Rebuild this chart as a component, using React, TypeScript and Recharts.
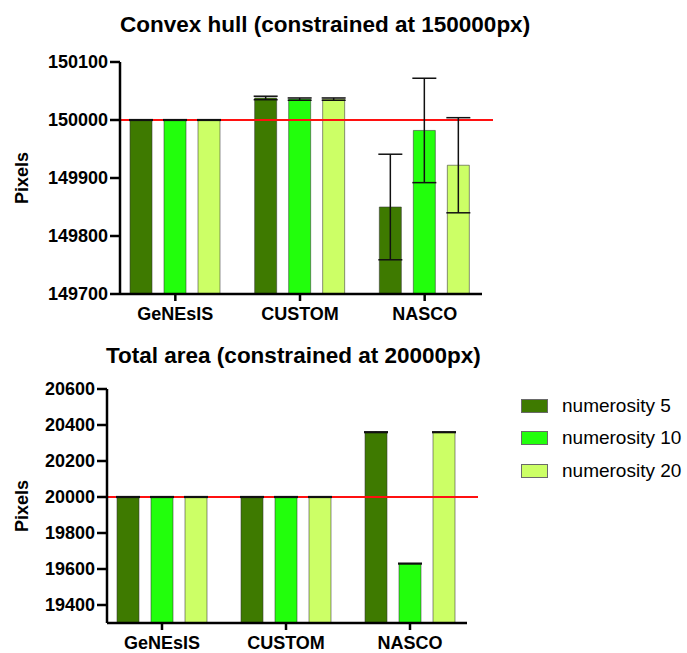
import { BarChart, Bar, XAxis, YAxis, ReferenceLine, ErrorBar, Legend } from 'recharts'

const FONT = '"Liberation Sans", Arial, Helvetica, sans-serif'

const groups = ['GeNEsIS', 'CUSTOM', 'NASCO']
const seriesNames = ['numerosity 5', 'numerosity 10', 'numerosity 20']
const COLORS = ['#3e7a00', '#22ff0c', '#ccff66']

// convex hull, mean and error per group
const hullN5 = [150000, 150038, 149850]
const hullN10 = [150000, 150036, 149982]
const hullN20 = [150000, 150036, 149922]
const hullErrN5 = [0.6, 3, 91]
const hullErrN10 = [0.6, 2, 90]
const hullErrN20 = [0.6, 2, 82]
const hullTicks = [149700, 149800, 149900, 150000, 150100]

// total area, mean and error per group
const areaN5 = [20000, 20000, 20360]
const areaN10 = [20000, 20000, 19630]
const areaN20 = [20000, 20000, 20360]
const areaErrN5 = [2, 2, 2]
const areaErrN10 = [2, 2, 2]
const areaErrN20 = [2, 2, 2]
const areaTicks = [19400, 19600, 19800, 20000, 20200, 20400, 20600]

const hullData = groups.map((g, i) => ({
  group: g,
  n5: hullN5[i], n10: hullN10[i], n20: hullN20[i],
  e5: hullErrN5[i], e10: hullErrN10[i], e20: hullErrN20[i],
}))

const areaData = groups.map((g, i) => ({
  group: g,
  n5: areaN5[i], n10: areaN10[i], n20: areaN20[i],
  e5: areaErrN5[i], e10: areaErrN10[i], e20: areaErrN20[i],
}))

const tickStyle = { fontSize: 18, fontWeight: 'bold', fill: '#000', fontFamily: FONT }
const axisStroke = { stroke: '#000', strokeWidth: 2.5 }

function redLine(p: any) {
  const left = Math.min(p.x1, p.x2)
  const right = Math.max(p.x1, p.x2)
  return <line x1={left} x2={right + 11} y1={p.y1} y2={p.y2} stroke="#ff1010" strokeWidth={2} />
}

function pixelsLabel(p: any) {
  const vb = p.viewBox
  const cy = vb.y + vb.height / 2
  return (
    <text x={22} y={cy} transform={`rotate(-90, 22, ${cy})`} textAnchor="middle" dominantBaseline="central"
      style={{ fontSize: 18, fontWeight: 'bold', fontFamily: FONT }} fill="#000">
      Pixels
    </text>
  )
}

function LegendBox({ payload }: any) {
  const items = [...(payload ?? [])].sort((a: any, b: any) => seriesNames.indexOf(a.value) - seriesNames.indexOf(b.value))
  return (
    <div>
      {items.map((item: any) => (
        <div key={item.value} style={{ display: 'flex', alignItems: 'center', height: 32.3 }}>
          <div style={{ width: 25, height: 12, background: item.color, border: '1px solid #6a6a6a' }} />
          <span style={{ marginLeft: 14, fontSize: 19, fontFamily: FONT, color: '#000', whiteSpace: 'nowrap' }}>{item.value}</span>
        </div>
      ))}
    </div>
  )
}

function bars() {
  const keys = ['n5', 'n10', 'n20']
  const errs = ['e5', 'e10', 'e20']
  return keys.map((k, i) => (
    <Bar key={k} dataKey={k} name={seriesNames[i]} fill={COLORS[i]} stroke="#333" strokeOpacity={0.55} strokeWidth={1}
      barSize={22} isAnimationActive={false}>
      <ErrorBar dataKey={errs[i]} width={12} stroke="#111" strokeWidth={1.5} direction="y" isAnimationActive={false} />
    </Bar>
  ))
}

export default function App() {
  return (
    <div style={{ position: 'absolute', left: 0, top: 0, width: 687, height: 653, background: '#fff', fontFamily: FONT }}>
      <div style={{ position: 'absolute', left: 120, width: 362, top: 12, textAlign: 'center', fontSize: 22.5, fontWeight: 'bold', whiteSpace: 'nowrap' }}>
        Convex hull (constrained at 150000px)
      </div>
      <div style={{ position: 'absolute', left: 0, top: 0 }}>
        <BarChart width={687} height={330} data={hullData} margin={{ top: 62, right: 205, bottom: 0, left: 0 }} barGap={12}>
          <ReferenceLine y={150000} shape={redLine} />
          <XAxis dataKey="group" tick={tickStyle} tickSize={7} tickMargin={6} height={36} interval={0}
            axisLine={axisStroke} tickLine={axisStroke} padding={{ left: -7, right: -5 }} />
          <YAxis type="number" domain={[149700, 150100]} ticks={hullTicks} interval={0} width={120} tickSize={10} tickMargin={2}
            tick={tickStyle} axisLine={axisStroke} tickLine={axisStroke} label={{ content: pixelsLabel }} />
          {bars()}
        </BarChart>
      </div>
      <div style={{ position: 'absolute', left: 106, width: 361, top: 343, textAlign: 'center', fontSize: 22.5, fontWeight: 'bold', whiteSpace: 'nowrap' }}>
        Total area (constrained at 20000px)
      </div>
      <div style={{ position: 'absolute', left: 0, top: 330 }}>
        <BarChart width={687} height={323} data={areaData} margin={{ top: 59, right: 220, bottom: 0, left: 0 }} barGap={12}>
          <ReferenceLine y={20000} shape={redLine} />
          <XAxis dataKey="group" tick={tickStyle} tickSize={7} tickMargin={6} height={30} interval={0}
            axisLine={axisStroke} tickLine={axisStroke} padding={{ left: -7, right: -5 }} />
          <YAxis type="number" domain={[19300, 20600]} ticks={areaTicks} interval={0} width={107} tickSize={10} tickMargin={2}
            tick={tickStyle} axisLine={axisStroke} tickLine={axisStroke} label={{ content: pixelsLabel }} />
          <Legend layout="vertical" verticalAlign="middle" align="center" content={<LegendBox />}
            wrapperStyle={{ left: 521, top: 60, right: 'auto', bottom: 'auto', width: 166 }} />
          {bars()}
        </BarChart>
      </div>
    </div>
  )
}
